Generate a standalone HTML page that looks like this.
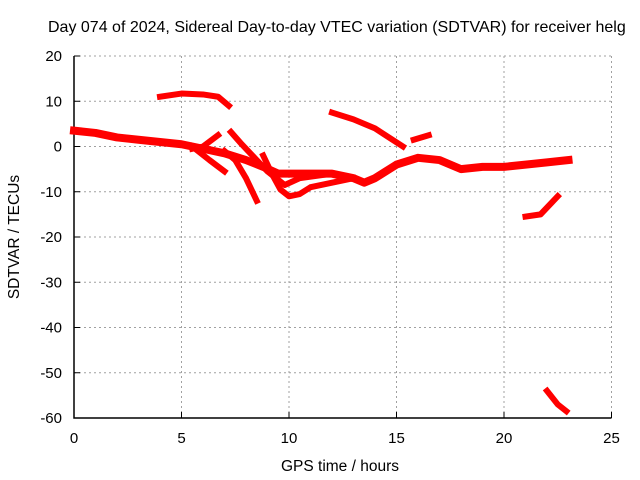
<!DOCTYPE html>
<html><head><meta charset="utf-8"><style>
body{margin:0;background:#fff}
svg{display:block;font-family:"Liberation Sans",sans-serif}
</style></head><body>
<svg id="chart" width="640" height="480" viewBox="0 0 640 480">
<text x="48" y="32" font-size="16">Day 074 of 2024, Sidereal Day-to-day VTEC variation (SDTVAR) for receiver helg</text>
<g id="grid"></g>
<g id="axes"></g>
<g id="series"></g>
<text x="340" y="471" font-size="15.5" text-anchor="middle">GPS time / hours</text>
<text transform="translate(19,237) rotate(-90)" font-size="15.5" text-anchor="middle">SDTVAR / TECUs</text>
</svg>
<script>
const xTicks=[0,5,10,15,20,25];
const yTicks=[20,10,0,-10,-20,-30,-40,-50,-60];
const trackMain=[[0,3.5],[1,3],[2,2],[3,1.5],[4,1],[5,0.5],[6,-0.5],[7,-1.5],[8,-3],[8.8,-4.5],[9.5,-6],[10.5,-6],[12,-6],[13,-7],[13.5,-8],[14,-7],[15,-4],[16,-2.5],[17,-3],[18,-5],[19,-4.5],[20,-4.5],[21,-4],[22,-3.5],[23,-3]];
const trackTop=[[4,11],[5,11.7],[6,11.5],[6.7,11],[7.2,9]];
const trackC=[[5.5,-0.5],[6,0],[6.7,2.5]];
const trackD=[[5.5,0],[6.3,-3],[7,-5.5]];
const trackE=[[7.3,3.2],[7.8,0.5],[8.3,-2],[9,-5.5],[9.8,-8.5],[10.5,-7],[12,-6]];
const trackF=[[7,-1],[7.5,-3],[8,-7],[8.5,-12]];
const trackG=[[8.8,-2],[9.2,-6],[9.6,-9.5],[10,-11],[10.5,-10.5],[11,-9],[12,-8],[13,-7]];
const trackH=[[12,7.5],[13,6],[14,4],[15.3,0]];
const trackI=[[15.8,1.5],[16.5,2.5]];
const trackJ=[[21,-15.5],[21.7,-15],[22.5,-11]];
const trackK=[[22,-54],[22.5,-57],[22.9,-58.5]];
const tracks=[trackMain,trackTop,trackC,trackD,trackE,trackF,trackG,trackH,trackI,trackJ,trackK];
const X0=74,X1=611.5,Y0=56,Y1=418;
function sx(v){return X0+(v-0)/(25-0)*(X1-X0);}
function sy(v){return Y0+(20-v)/(20-(-60))*(Y1-Y0);}
const NS="http://www.w3.org/2000/svg";
function mk(t,a,p){const e=document.createElementNS(NS,t);for(const k in a)e.setAttribute(k,a[k]);p.appendChild(e);return e;}
const grid=document.getElementById('grid'),axes=document.getElementById('axes'),ser=document.getElementById('series');
xTicks.forEach(t=>{
 const l=mk('line',{x1:sx(t),x2:sx(t),y1:Y0,y2:Y1,stroke:'#a0a0a0','stroke-dasharray':'2,3'},grid);
 
 
 const tx=mk('text',{x:sx(t),y:Y1+25,'font-size':15,'text-anchor':'middle'},axes);
 tx.textContent=t;
 
 
 mk('line',{x1:sx(t),x2:sx(t),y1:Y1,y2:Y1-6,stroke:'#000'},axes);
});
yTicks.forEach(t=>{
 const l=mk('line',{x1:X0,x2:X1,y1:sy(t),y2:sy(t),stroke:'#a0a0a0','stroke-dasharray':'2,3'},grid);
 
 
 const tx=mk('text',{x:X0-12,y:sy(t)+5,'font-size':15,'text-anchor':'end'},axes);
 tx.textContent=t;
 
 
 mk('line',{x1:X0,x2:X0+6,y1:sy(t),y2:sy(t),stroke:'#000'},axes);
});
mk('polyline',{points:`${X0},${Y0} ${X0},${Y1} ${X1},${Y1}`,fill:'none',stroke:'#000','stroke-width':1.5},axes);
tracks.forEach((tr,i)=>{
 const p=mk('polyline',{points:tr.map(d=>sx(d[0])+','+sy(d[1])).join(' '),fill:'none',stroke:'#f00','stroke-width':i==0?8:6,'stroke-linejoin':'round','stroke-linecap':'square'},ser);
 
 
});
</script>
</body></html>
